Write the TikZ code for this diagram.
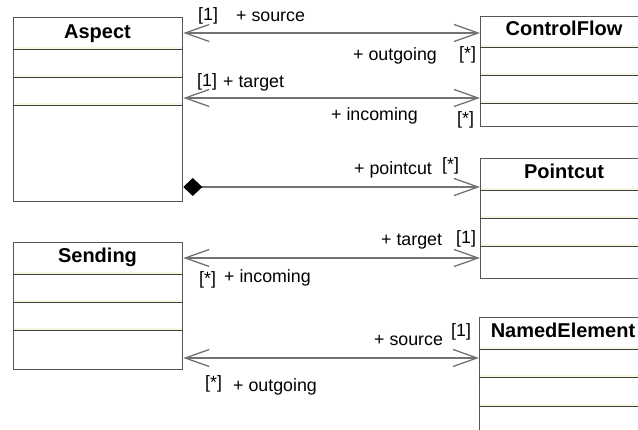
\documentclass[tikz,border=0pt]{standalone}
\usepackage{fontspec}
\setmainfont{Liberation Sans}
\usepackage{xcolor}
\usetikzlibrary{arrows.meta, positioning}
\definecolor{boxgray}{RGB}{85,85,85}
\definecolor{linegray}{RGB}{115,115,115}
\definecolor{cream}{RGB}{249,247,226}

\begin{document}
\begin{tikzpicture}[x=1pt,y=-1pt] % 1pt = 1px
	\clip (0,0) rectangle (638,430);
	\tikzset{
		classbox/.style={draw=boxgray, line width=1.3pt, anchor=north west, inner sep=0pt},
		classname/.style={anchor=base, font=\fontsize{20}{24}\selectfont\bfseries},
		sep/.style={draw=black!75, line width=1pt},
		role/.style={anchor=base west, inner sep=0pt, font=\fontsize{17.8}{21}\selectfont},
		assoc/.style={draw=linegray, line width=1.3pt, {Straight Barb[length=24pt,width=17pt]}-{Straight Barb[length=24pt,width=17pt]}},
		comp/.style={draw=linegray, line width=1.3pt, {Diamond[length=19pt,width=18pt,black,fill=black]}-{Straight Barb[length=24pt,width=17pt]}}
	}
	
	% classes
	\node[classbox, minimum width=169pt, minimum height=184pt] (aspect) at (13,17) {};
	\node[classname] (aspectname) at (97.5,38.5) {Aspect};
	\foreach \y in {50,78,106} {
		\fill[cream] (14,\y-3) rectangle (182,\y-0.5);
		\draw[sep] (13,\y) -- (182,\y);
	}
	
	\node[classbox, minimum width=169pt, minimum height=127pt] (sending) at (13,242) {};
	\node[classname] (sendingname) at (97.5,263) {Sending};
	\foreach \y in {275,303,331} {
		\fill[cream] (14,\y-3) rectangle (182,\y-0.5);
		\draw[sep] (13,\y) -- (182,\y);
	}
	
	\node[classbox, minimum width=168pt, minimum height=110pt] (cflow) at (480,16) {};
	\node[classname] (cflowname) at (564,36) {ControlFlow};
	\foreach \y in {48,76,104} {
		\fill[cream] (481,\y-3) rectangle (648,\y-0.5);
		\draw[sep] (480,\y) -- (648,\y);
	}
	
	\node[classbox, minimum width=168pt, minimum height=120pt] (pointcut) at (480,158) {};
	\node[classname] (pointcutname) at (564,179) {Pointcut};
	\foreach \y in {191,219,247} {
		\fill[cream] (481,\y-3) rectangle (648,\y-0.5);
		\draw[sep] (480,\y) -- (648,\y);
	}
	
	\node[classbox, minimum width=168pt, minimum height=125pt] (named) at (479,317) {};
	\node[classname] (namedname) at (563,338) {NamedElement};
	\foreach \y in {350,378,407} {
		\fill[cream] (480,\y-3) rectangle (648,\y-0.5);
		\draw[sep] (479,\y) -- (648,\y);
	}
	
	% associations
	\draw[assoc] (aspect.east |- 0,33) -- (cflow.west |- 0,33);
	\draw[assoc] (aspect.east |- 0,98) -- (cflow.west |- 0,98);
	\draw[comp] (aspect.east |- 0,187) -- (pointcut.west |- 0,187);
	\draw[assoc] (sending.east |- 0,258) -- (pointcut.west |- 0,258);
	\draw[assoc] (sending.east |- 0,358) -- (named.west |- 0,358);
	
	% role names
	\node[role] (m1) at (198,21) {[1]};
	\node[role] (r1) at (236,22) {+ source};
	\node[role] (r2) at (353,61) {+ outgoing};
	\node[role] (m2) at (459,60) {[*]};
	
	\node[role] (m3) at (197,87) {[1]};
	\node[role] (r3) at (223,88) {+ target};
	\node[role] (r4) at (331,121) {+ incoming};
	\node[role] (m4) at (457,125) {[*]};
	
	\node[role] (r5) at (354,175) {+ pointcut};
	\node[role] (m5) at (442,171) {[*]};
	
	\node[role] (m6) at (199,285) {[*]};
	\node[role] (r6) at (224,283) {+ incoming};
	\node[role] (r7) at (381,246) {+ target};
	\node[role] (m7) at (456,244) {[1]};
	
	\node[role] (m8) at (205,389) {[*]};
	\node[role] (r8) at (233,392) {+ outgoing};
	\node[role] (r9) at (374,346) {+ source};
	\node[role] (m9) at (451,337) {[1]};
\end{tikzpicture}
\end{document}
